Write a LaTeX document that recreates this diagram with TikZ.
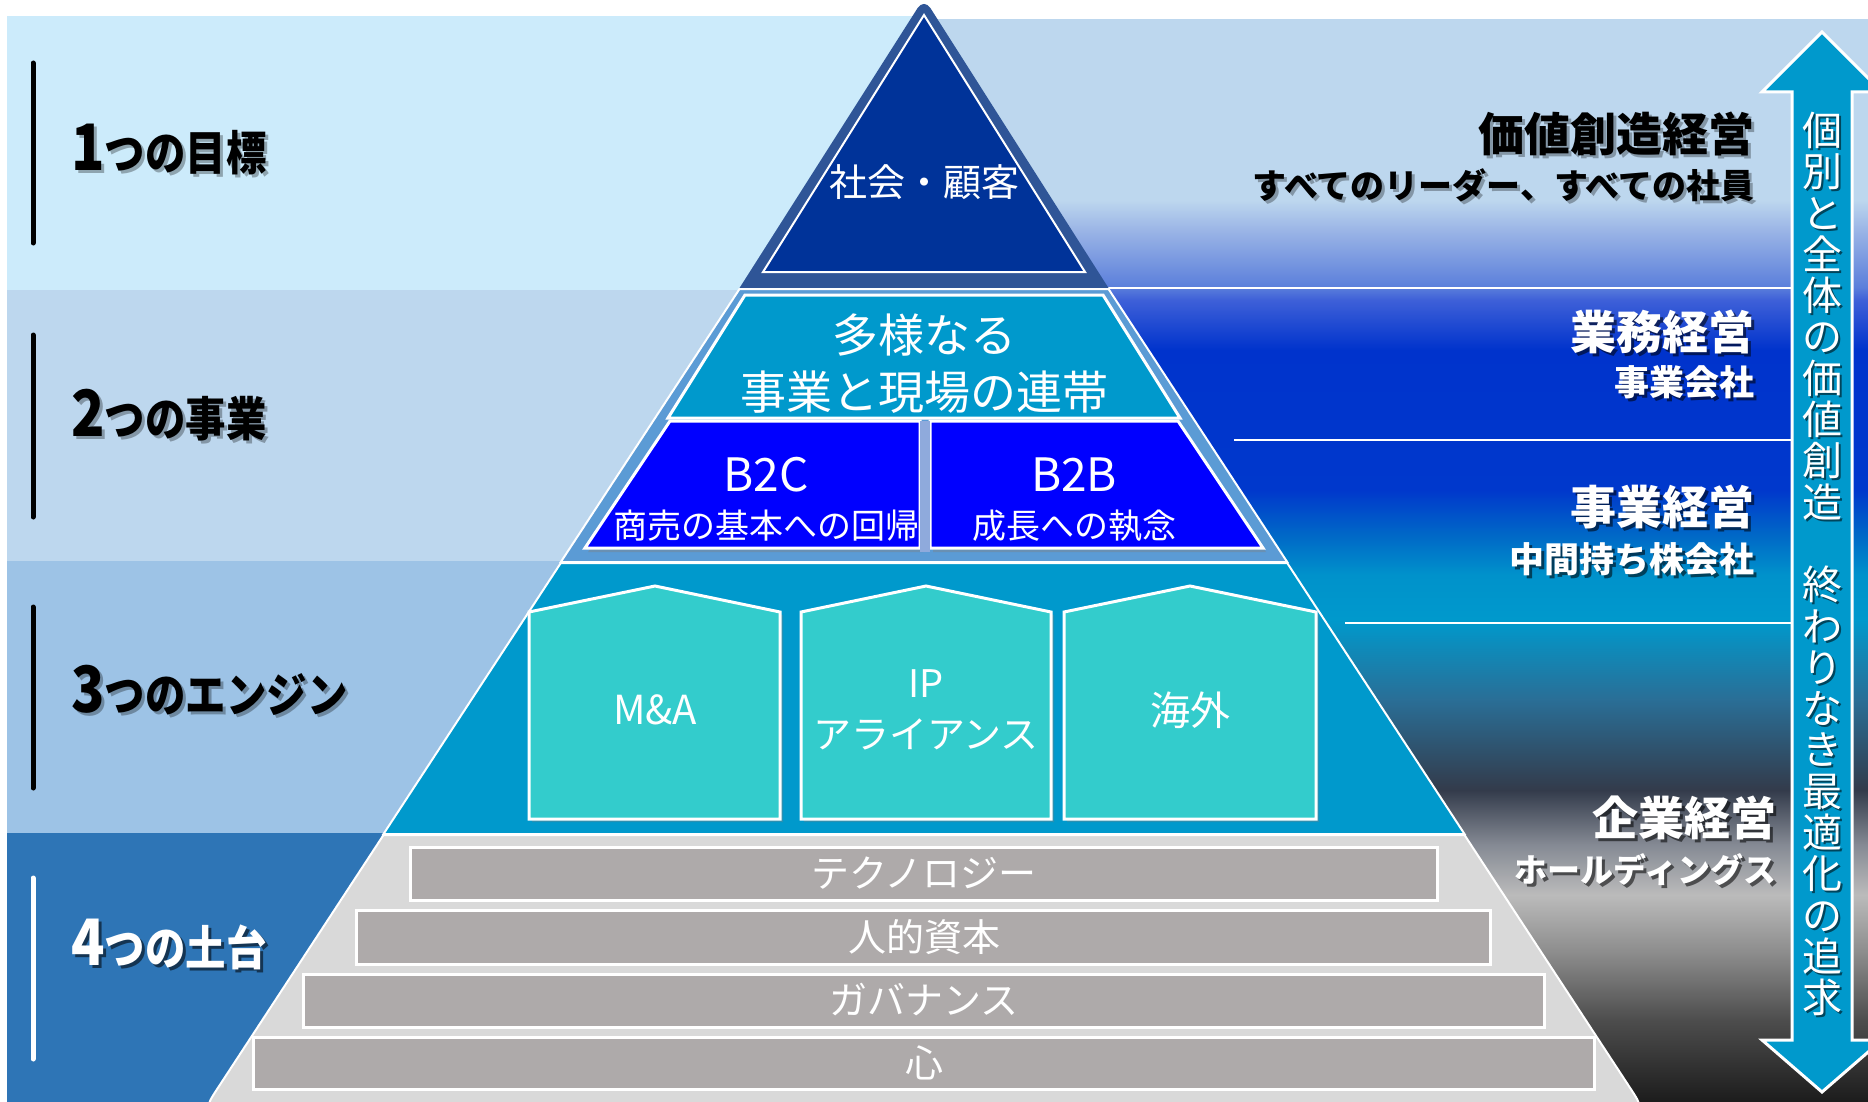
\documentclass[tikz,border=0pt]{standalone}
\usepackage{fontspec}
\setmainfont{Noto Sans CJK JP}
\newfontfamily\jpc{Noto Sans CJK JP}[FakeStretch=0.86]
\usetikzlibrary{shadows}

\definecolor{bandA}{HTML}{CCEBFB}
\definecolor{bandB}{HTML}{BDD7EE}
\definecolor{bandC}{HTML}{9DC3E6}
\definecolor{bandD}{HTML}{2E75B6}
\definecolor{topouter}{HTML}{2F5597}
\definecolor{topinner}{HTML}{003399}
\definecolor{tierB}{HTML}{5B9BD5}
\definecolor{cyanblue}{HTML}{0099CC}
\definecolor{pureblue}{HTML}{0000FF}
\definecolor{dividercol}{HTML}{8FAADC}
\definecolor{housecol}{HTML}{33CCCC}
\definecolor{tierD}{HTML}{D9D9D9}
\definecolor{barfill}{HTML}{AEAAAA}

\definecolor{gA}{HTML}{1C1C1C}
\definecolor{gB}{HTML}{4D4D4D}
\definecolor{gC}{HTML}{8C8C8C}
\definecolor{gD}{HTML}{BBBBBB}
\definecolor{gE}{HTML}{858A94}
\definecolor{gF}{HTML}{333B4B}
\definecolor{gG}{HTML}{2A6E96}
\definecolor{gH}{HTML}{0099CC}
\definecolor{gI}{HTML}{0092CB}
\definecolor{gJ}{HTML}{0068C7}
\definecolor{gK}{HTML}{0038CC}
\definecolor{gL}{HTML}{0033CC}
\definecolor{gM}{HTML}{3E60D8}
\definecolor{gN}{HTML}{5B7FDB}
\definecolor{gO}{HTML}{9BB5E6}
\definecolor{gP}{HTML}{BDD7EE}

\pgfdeclareverticalshading{rightgrad}{100bp}{color(0bp)=(gA); color(25bp)=(gA);
 color(28.79bp)=(gB); color(31.89bp)=(gC); color(34.57bp)=(gD); color(36.88bp)=(gE);
 color(39.42bp)=(gF); color(43.58bp)=(gG); color(47.27bp)=(gH); color(49.35bp)=(gI);
 color(51.20bp)=(gJ); color(53.28bp)=(gK); color(59.75bp)=(gL); color(62.06bp)=(gM);
 color(62.66bp)=(gN); color(65.30bp)=(gO); color(66.68bp)=(gP); color(75bp)=(gP); color(100bp)=(gP)}

\newcommand\LabNum[2]{{\fontsize{32}{32}\selectfont #1}{\fontsize{23.5}{23.5}\selectfont #2}}

\tikzset{
  tierline/.style={draw=white, line width=1pt},
  housebox/.style={fill=housecol, draw=white, line width=1.5pt,
     drop shadow={shadow xshift=1.5pt, shadow yshift=-1.5pt, opacity=0.35}},
  barbox/.style={fill=barfill, draw=white, line width=1.5pt},
  intext/.style={text=white, inner sep=0pt, align=center},
  llabel/.style={anchor=west, inner sep=0pt, font=\jpc\bfseries},
  rbig/.style={anchor=east, inner sep=0pt, font=\bfseries\fontsize{23}{23}\selectfont},
  rsmall/.style={anchor=east, inner sep=0pt, font=\bfseries\fontsize{17.5}{17.5}\selectfont},
  vbar/.style={line width=2.5pt, line cap=round},
  sepline/.style={white, line width=0.8pt},
  shadowdark/.style={text=black, text opacity=0.55},
  shadowgray/.style={text=black, text opacity=0.3},
}

\begin{document}
\begin{tikzpicture}[x=0.5pt, y=-0.5pt]
\useasboundingbox (0,0) rectangle (1868,1102);
\clip (0,0) rectangle (1868,1102);
\fill[white] (0,0) rectangle (1868,1102);

% left bands
\fill[bandA] (7,16) rectangle (924,290);
\fill[bandB] (7,290) rectangle (924,561);
\fill[bandC] (7,561) rectangle (924,833);
\fill[bandD] (7,833) rectangle (924,1102);

% right gradient
\shade[shading=rightgrad] (924,20) rectangle (1868,1102);

% right separator lines
\draw[sepline] (1108,288) -- (1792,288);
\draw[sepline] (1234,440) -- (1792,440);
\draw[sepline] (1345,623) -- (1792,623);

% left vertical bars
\draw[vbar, black] (33,63) -- (33,243);
\draw[vbar, black] (33,335) -- (33,517);
\draw[vbar, black] (33,607) -- (33,788);
\draw[vbar, white] (33,878) -- (33,1059);

% tier 1
\fill[topouter] (739.5,288) [rounded corners=6pt] -- (924,-2) [sharp corners] -- (1108.5,288) -- cycle;
\filldraw[fill=topinner, draw=white, line width=1pt] (763,272) -- (924,15) -- (1085,272) -- cycle;

% tier 2
\filldraw[fill=tierB, tierline] (739.5,289) -- (1108.5,289) -- (1287.2,562) -- (560.8,562) -- cycle;
\filldraw[fill=cyanblue, draw=white, line width=1.5pt] (745,295) -- (1103,295) -- (1180,418) -- (668,418) -- cycle;
\filldraw[fill=pureblue, draw=white, line width=1.5pt,
  drop shadow={shadow xshift=1.5pt, shadow yshift=-2pt, opacity=0.4}]
  (670,421) -- (920,421) -- (920,548) -- (585,548) -- cycle;
\filldraw[fill=pureblue, draw=white, line width=1.5pt,
  drop shadow={shadow xshift=1.5pt, shadow yshift=-2pt, opacity=0.4}]
  (930,421) -- (1178,421) -- (1263,548) -- (930,548) -- cycle;
\fill[dividercol] (920,421) rectangle (930,552);

% tier 3
\filldraw[fill=cyanblue, tierline] (560.8,563) -- (1287.2,563) -- (1464.5,834) -- (383.5,834) -- cycle;
\filldraw[housebox] (529,819) -- (529,612) -- (655,586) -- (780,612) -- (780,819) -- cycle;
\filldraw[housebox] (801,819) -- (801,612) -- (926,586) -- (1051,612) -- (1051,819) -- cycle;
\filldraw[housebox] (1064,819) -- (1064,612) -- (1190,586) -- (1316,612) -- (1316,819) -- cycle;

% tier 4
\filldraw[fill=tierD, tierline] (383.5,835) -- (1464.5,835) -- (1630.1,1087.9)
  .. controls (1643.2,1108) .. (1619.2,1108) -- (228.8,1108)
  .. controls (204.8,1108) .. (217.9,1087.9) -- cycle;
\filldraw[barbox] (410,847) rectangle (1437,900);
\filldraw[barbox] (356,910) rectangle (1490,964);
\filldraw[barbox] (303,974) rectangle (1544,1027);
\filldraw[barbox] (253,1037) rectangle (1594,1089);

% pyramid texts
\node[intext, font=\fontsize{19}{19}\selectfont] (goal) at (924,182) {社会・顧客};
\node[intext, font=\fontsize{23}{28.5}\selectfont] (renkei) at (924,364) {多様なる\\事業と現場の連帯};
\node[intext, font=\fontsize{23}{23}\selectfont] (b2c) at (766,475) {B2C};
\node[intext, font=\fontsize{17}{17}\selectfont] (b2cs) at (766,526) {商売の基本への回帰};
\node[intext, font=\fontsize{23}{23}\selectfont] (b2b) at (1074,475) {B2B};
\node[intext, font=\fontsize{17}{17}\selectfont] (b2bs) at (1074,526) {成長への執念};
\node[intext, font=\fontsize{20}{20}\selectfont] (ma) at (655,710) {M\&A};
\node[intext, font=\fontsize{19}{25.5}\selectfont] (ip) at (926,710) {IP\\アライアンス};
\node[intext, font=\fontsize{20}{20}\selectfont] (kaigai) at (1190,710) {海外};
\node[intext, font=\fontsize{19}{19}\selectfont] (tech) at (924,873) {テクノロジー};
\node[intext, font=\fontsize{19}{19}\selectfont] (jinteki) at (924,937) {人的資本};
\node[intext, font=\fontsize{19}{19}\selectfont] (gov) at (924,1000) {ガバナンス};
\node[intext, font=\fontsize{19}{19}\selectfont] (kokoro) at (924,1063) {心};

% left labels
\node[llabel, shadowgray] (l1s) at (74,153) {\LabNum{1}{つの目標}};
\node[llabel] (l1) at (71,150) {\LabNum{1}{つの目標}};
\node[llabel, shadowgray] (l2s) at (74,418) {\LabNum{2}{つの事業}};
\node[llabel] (l2) at (71,415) {\LabNum{2}{つの事業}};
\node[llabel, shadowgray] (l3s) at (74,693) {\LabNum{3}{つのエンジン}};
\node[llabel] (l3) at (71,690) {\LabNum{3}{つのエンジン}};
\node[llabel, shadowdark] (l4s) at (74,947) {\LabNum{4}{つの土台}};
\node[llabel, text=white] (l4) at (71,944) {\LabNum{4}{つの土台}};

% right labels
\node[rbig, shadowgray] (r1s) at (1758,137) {価値創造経営};
\node[rbig] (r1) at (1755,134) {価値創造経営};
\node[rsmall, shadowgray, font=\bfseries\fontsize{17}{17}\selectfont] (r1bs) at (1758,188) {すべてのリーダー、すべての社員};
\node[rsmall, font=\bfseries\fontsize{17}{17}\selectfont] (r1b) at (1755,185) {すべてのリーダー、すべての社員};

\node[rbig, shadowdark] (r2s) at (1758,335) {業務経営};
\node[rbig, text=white] (r2) at (1755,332) {業務経営};
\node[rsmall, shadowdark] (r2bs) at (1758,385) {事業会社};
\node[rsmall, text=white] (r2b) at (1755,382) {事業会社};

\node[rbig, shadowdark] (r3s) at (1758,510) {事業経営};
\node[rbig, text=white] (r3) at (1755,507) {事業経営};
\node[rsmall, shadowdark] (r3bs) at (1758,562) {中間持ち株会社};
\node[rsmall, text=white] (r3b) at (1755,559) {中間持ち株会社};

\node[rbig, shadowdark] (r4s) at (1780,821) {企業経営};
\node[rbig, text=white] (r4) at (1777,818) {企業経営};
\node[rsmall, shadowdark, font=\bfseries\fontsize{16.5}{16.5}\selectfont] (r4bs) at (1780,873) {ホールディングス};
\node[rsmall, text=white, font=\bfseries\fontsize{16.5}{16.5}\selectfont] (r4b) at (1777,870) {ホールディングス};

% double arrow
\filldraw[fill=cyanblue, draw=white, line width=1.5pt]
  (1822,32) -- (1882,92) -- (1852,92) -- (1852,1040) -- (1882,1040) -- (1822,1092)
  -- (1762,1040) -- (1792,1040) -- (1792,92) -- (1762,92) -- cycle;
\node[intext, shadowdark, font=\fontsize{20}{20.65}\selectfont] (vts) at (1824,566)
  {個\\別\\と\\全\\体\\の\\価\\値\\創\\造\\\mbox{}\\終\\わ\\り\\な\\き\\最\\適\\化\\の\\追\\求};
\node[intext, font=\fontsize{20}{20.65}\selectfont] (vt) at (1822,564)
  {個\\別\\と\\全\\体\\の\\価\\値\\創\\造\\\mbox{}\\終\\わ\\り\\な\\き\\最\\適\\化\\の\\追\\求};
\end{tikzpicture}
\end{document}
